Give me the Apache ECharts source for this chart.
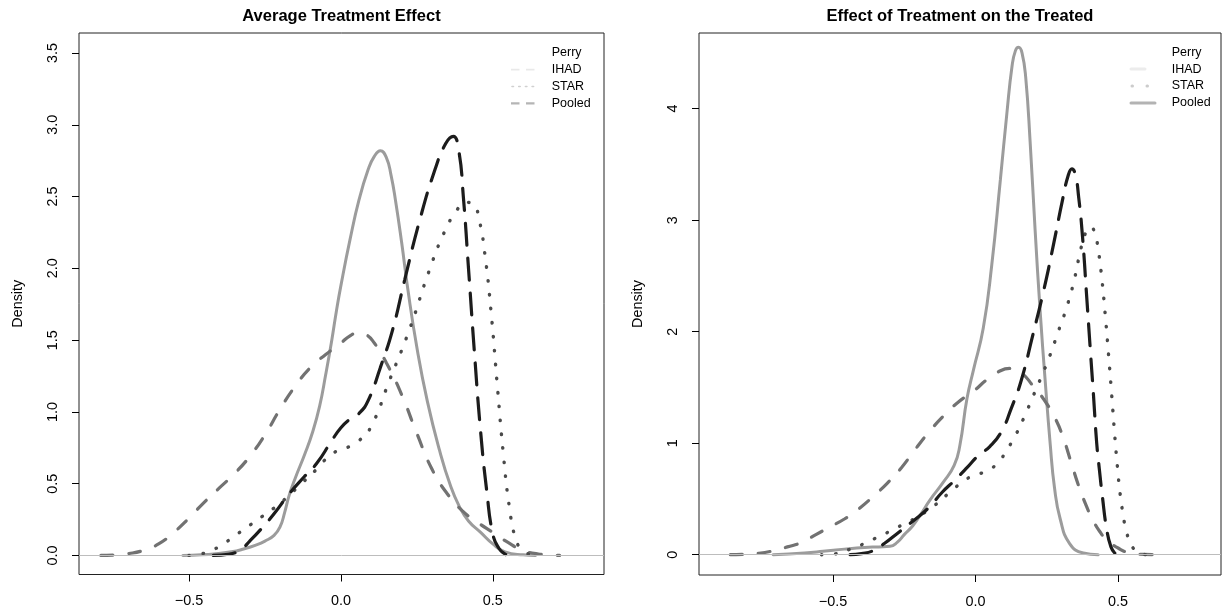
<!DOCTYPE html>
<html>
<head>
<meta charset="utf-8">
<script src="https://cdn.jsdelivr.net/npm/echarts@6.0.0/dist/echarts.min.js"></script>
<style>
  html, body { margin: 0; padding: 0; background: #fff; }
  #chart { width: 1222px; height: 612px; }
</style>
</head>
<body>
<div id="chart"></div>
<script>
// density curves, [effect, density]
const ateSolid = [
  [-0.52, 0], [-0.46, 0.004], [-0.41, 0.012], [-0.36, 0.025], [-0.32, 0.045], [-0.28, 0.072],
  [-0.25, 0.1], [-0.22, 0.14], [-0.2, 0.2], [-0.185, 0.3], [-0.17, 0.42], [-0.15, 0.54],
  [-0.12, 0.7], [-0.093, 0.86], [-0.07, 1.04], [-0.05, 1.26], [-0.03, 1.5], [-0.015, 1.7],
  [0, 1.88], [0.03, 2.2], [0.06, 2.48], [0.09, 2.69], [0.11, 2.78], [0.13, 2.82], [0.15, 2.77],
  [0.165, 2.65], [0.18, 2.47], [0.2, 2.18], [0.22, 1.86], [0.25, 1.45], [0.285, 1.07],
  [0.325, 0.73], [0.36, 0.49], [0.39, 0.34], [0.42, 0.24], [0.46, 0.16], [0.5, 0.08],
  [0.54, 0.025], [0.6, 0.004], [0.64, 0]
]
const ateDashed = [
  [-0.79, 0], [-0.74, 0.003], [-0.7, 0.012], [-0.65, 0.035], [-0.6, 0.08], [-0.55, 0.16],
  [-0.5, 0.26], [-0.45, 0.37], [-0.4, 0.47], [-0.35, 0.57], [-0.3, 0.69], [-0.25, 0.84],
  [-0.2, 1.02], [-0.15, 1.18], [-0.1, 1.31], [-0.05, 1.4], [0, 1.48], [0.03, 1.53], [0.055, 1.55],
  [0.08, 1.54], [0.11, 1.48], [0.15, 1.34], [0.2, 1.12], [0.25, 0.85], [0.3, 0.6],
  [0.35, 0.43], [0.4, 0.31], [0.45, 0.23], [0.5, 0.16], [0.55, 0.09], [0.6, 0.035],
  [0.65, 0.01], [0.72, 0]
]
const ateDotted = [
  [-0.5, 0], [-0.46, 0.01], [-0.42, 0.04], [-0.38, 0.09], [-0.34, 0.15], [-0.3, 0.21],
  [-0.26, 0.27], [-0.22, 0.33], [-0.18, 0.4], [-0.13, 0.5], [-0.08, 0.6], [-0.04, 0.69],
  [0, 0.74], [0.03, 0.76], [0.06, 0.8], [0.1, 0.9], [0.16, 1.22], [0.225, 1.57],
  [0.29, 1.98], [0.34, 2.25], [0.38, 2.4], [0.41, 2.46], [0.435, 2.45], [0.455, 2.34],
  [0.475, 2.08], [0.495, 1.68], [0.515, 1.18], [0.535, 0.7], [0.555, 0.33], [0.575, 0.12],
  [0.6, 0.03], [0.64, 0]
]
const ateLongDash = [
  [-0.42, 0], [-0.37, 0.008], [-0.33, 0.04], [-0.3, 0.1], [-0.26, 0.19], [-0.22, 0.29],
  [-0.17, 0.43], [-0.12, 0.55], [-0.08, 0.64], [-0.03, 0.8], [0, 0.89], [0.03, 0.95],
  [0.06, 0.99], [0.09, 1.08], [0.13, 1.31], [0.17, 1.57], [0.21, 1.92], [0.26, 2.34],
  [0.31, 2.69], [0.345, 2.87], [0.37, 2.92], [0.388, 2.82], [0.403, 2.5], [0.42, 2.0],
  [0.44, 1.4], [0.46, 0.86], [0.48, 0.45], [0.5, 0.15], [0.52, 0.05], [0.54, 0.01], [0.55, 0]
]

const totSolid = [
  [-0.71, 0], [-0.6, 0.015], [-0.535, 0.03], [-0.46, 0.05], [-0.39, 0.065], [-0.34, 0.07],
  [-0.3, 0.075], [-0.275, 0.11], [-0.25, 0.18], [-0.22, 0.26], [-0.19, 0.37], [-0.16, 0.49],
  [-0.113, 0.65], [-0.075, 0.8], [-0.055, 0.98], [-0.03, 1.4], [-0.007, 1.66], [0.027, 2.03],
  [0.057, 2.6], [0.087, 3.36], [0.11, 3.96], [0.128, 4.38], [0.14, 4.52], [0.151, 4.55],
  [0.163, 4.5], [0.176, 4.28], [0.192, 3.68], [0.209, 2.91], [0.227, 2.17], [0.244, 1.57],
  [0.262, 0.99], [0.277, 0.6], [0.297, 0.32], [0.33, 0.1], [0.378, 0.015], [0.43, 0]
]
const totDashed = [
  [-0.86, 0], [-0.81, 0.003], [-0.76, 0.012], [-0.71, 0.035], [-0.66, 0.07], [-0.61, 0.11],
  [-0.56, 0.18], [-0.51, 0.25], [-0.46, 0.32], [-0.41, 0.41], [-0.36, 0.52], [-0.31, 0.64],
  [-0.26, 0.78], [-0.21, 0.95], [-0.16, 1.11], [-0.11, 1.25], [-0.06, 1.37], [-0.01, 1.46],
  [0.04, 1.57], [0.08, 1.64], [0.12, 1.67], [0.16, 1.63], [0.2, 1.52], [0.24, 1.39],
  [0.28, 1.22], [0.31, 1.03], [0.335, 0.83], [0.36, 0.63], [0.385, 0.46], [0.41, 0.32],
  [0.435, 0.21], [0.465, 0.12], [0.5, 0.06], [0.535, 0.02], [0.59, 0.003], [0.67, 0]
]
const totDotted = [
  [-0.54, 0], [-0.49, 0.008], [-0.44, 0.05], [-0.39, 0.1], [-0.35, 0.15], [-0.3, 0.21],
  [-0.255, 0.27], [-0.21, 0.33], [-0.15, 0.43], [-0.09, 0.56], [-0.047, 0.65], [-0.008, 0.71],
  [0.04, 0.75], [0.08, 0.83], [0.11, 0.94], [0.14, 1.07], [0.17, 1.23], [0.2, 1.41],
  [0.23, 1.59], [0.26, 1.78], [0.29, 2.0], [0.32, 2.22], [0.345, 2.45], [0.365, 2.69],
  [0.385, 2.88], [0.403, 2.94], [0.418, 2.89], [0.43, 2.74], [0.442, 2.5], [0.455, 2.15],
  [0.467, 1.78], [0.478, 1.42], [0.488, 1.08], [0.498, 0.78], [0.507, 0.55], [0.517, 0.37],
  [0.53, 0.2], [0.55, 0.07], [0.575, 0.015], [0.6, 0]
]
const totLongDash = [
  [-0.44, 0], [-0.4, 0.01], [-0.36, 0.035], [-0.32, 0.1], [-0.27, 0.2], [-0.22, 0.3],
  [-0.165, 0.42], [-0.117, 0.56], [-0.072, 0.67], [-0.03, 0.78], [0.01, 0.89], [0.05, 0.97],
  [0.09, 1.1], [0.125, 1.31], [0.16, 1.56], [0.2, 1.96], [0.24, 2.38], [0.275, 2.8],
  [0.305, 3.18], [0.325, 3.4], [0.338, 3.46], [0.35, 3.41], [0.362, 3.2], [0.375, 2.86],
  [0.39, 2.31], [0.402, 1.86], [0.414, 1.42], [0.425, 1.0], [0.435, 0.75], [0.445, 0.52],
  [0.46, 0.23], [0.475, 0.07], [0.49, 0.01], [0.5, 0]
]

const legendNames = ['Perry', 'IHAD', 'STAR', 'Pooled']
const titles = ['Average Treatment Effect', 'Effect of Treatment on the Treated']
const xTicks = [-0.5, 0, 0.5]
const xTickLabels = ['\u22120.5', '0.0', '0.5']
const ateYTicks = [0, 0.5, 1, 1.5, 2, 2.5, 3, 3.5]
const ateYTickLabels = ['0.0', '0.5', '1.0', '1.5', '2.0', '2.5', '3.0', '3.5']
const totYTicks = [0, 1, 2, 3, 4]
const totYTickLabels = ['0', '1', '2', '3', '4']

const FONT = '"Liberation Sans", Arial, Helvetica, sans-serif'

const chart = echarts.init(document.getElementById('chart'))

function labelFor(ticks, labels) {
  return (v) => {
    const i = ticks.findIndex((t) => Math.abs(t - v) < 1e-9)
    return i < 0 ? '' : labels[i]
  }
}

function xAxisFor(idx, min, max) {
  return {
    type: 'value',
    gridIndex: idx,
    min,
    max,
    axisLine: { show: false, onZero: false },
    splitLine: { show: false },
    axisTick: { show: true, length: 7, customValues: xTicks, lineStyle: { color: '#000' } },
    axisLabel: {
      customValues: xTicks,
      margin: 20,
      fontSize: 14.4,
      color: '#000',
      fontFamily: FONT,
      formatter: labelFor(xTicks, xTickLabels)
    }
  }
}

function yAxisFor(idx, min, max, ticks, labels) {
  return {
    type: 'value',
    gridIndex: idx,
    min,
    max,
    name: 'Density',
    nameLocation: 'middle',
    nameGap: 54,
    nameTextStyle: { fontSize: 14.4, color: '#000', fontFamily: FONT },
    axisLine: { show: false, onZero: false },
    splitLine: { show: false },
    axisTick: { show: true, length: 7, customValues: ticks, lineStyle: { color: '#000' } },
    axisLabel: {
      customValues: ticks,
      rotate: 90,
      margin: 19,
      fontSize: 14.4,
      color: '#000',
      fontFamily: FONT,
      formatter: labelFor(ticks, labels)
    }
  }
}

const styles = {
  solid: { color: '#9c9c9c', width: 3, type: 'solid', cap: 'round' },
  dashed: { color: '#727272', width: 3.2, type: [12, 16], cap: 'round' },
  dotted: { color: '#4a4a4a', width: 3.4, type: [0.5, 13.5], cap: 'round' },
  longDash: { color: '#1c1c1c', width: 3.2, type: [22, 13], cap: 'round' }
}

function curve(name, data, idx, style, withZero) {
  const s = {
    name,
    type: 'line',
    xAxisIndex: idx,
    yAxisIndex: idx,
    data,
    symbol: 'none',
    smooth: 0.5,
    lineStyle: style
  }
  if (withZero) {
    // abline(h = 0)
    s.markLine = {
      silent: true,
      symbol: 'none',
      label: { show: false },
      lineStyle: { color: '#bdbdbd', width: 1, type: 'solid' },
      data: [{ yAxis: 0 }]
    }
  }
  return s
}

// legend drawn by hand, its samples do not match the plotted lines
function legendGraphic(textX, topY, samples) {
  const els = []
  legendNames.forEach((name, i) => {
    const y = topY + i * 16.9
    const s = samples[i]
    if (s) {
      els.push({
        type: 'line',
        shape: { x1: s.x1, y1: y, x2: s.x2, y2: y },
        style: { stroke: s.color, lineWidth: s.width, lineDash: s.dash || null, lineCap: s.cap || 'butt' },
        silent: true
      })
    }
    els.push({
      type: 'text',
      x: textX,
      y,
      style: { text: name, fill: '#000', font: '12.5px ' + FONT, align: 'left', verticalAlign: 'middle' },
      silent: true
    })
  })
  return els
}

const graphics = [
  {
    type: 'text', x: 341.5, y: 16.5,
    style: { text: titles[0], fill: '#000', font: 'bold 16.5px ' + FONT, align: 'center', verticalAlign: 'middle' }
  },
  {
    type: 'text', x: 960, y: 16.5,
    style: { text: titles[1], fill: '#000', font: 'bold 16.5px ' + FONT, align: 'center', verticalAlign: 'middle' }
  },
  ...legendGraphic(551.7, 52.7, [
    null,
    { x1: 511, x2: 535, color: '#e9e9e9', width: 1.6, dash: [8.5, 6.5] },
    { x1: 512, x2: 535, color: '#d0d0d0', width: 1.6, dash: [1.5, 5.2], cap: 'round' },
    { x1: 511, x2: 535, color: '#b5b5b5', width: 2.2, dash: [8.5, 6.5] }
  ]),
  ...legendGraphic(1171.7, 52.2, [
    null,
    { x1: 1131, x2: 1145, color: '#ececec', width: 3, cap: 'round' },
    { x1: 1132, x2: 1150, color: '#cccccc', width: 3, dash: [0.5, 14.5], cap: 'round' },
    { x1: 1131, x2: 1155, color: '#b3b3b3', width: 3, cap: 'round' }
  ])
]

const option = {
  animation: false,
  backgroundColor: '#fff',
  textStyle: { fontFamily: FONT },
  grid: [
    { left: 79, top: 33, width: 525, height: 541.5, show: true, borderColor: '#222', borderWidth: 1, outerBoundsMode: 'none' },
    { left: 699, top: 33, width: 522, height: 542, show: true, borderColor: '#222', borderWidth: 1, outerBoundsMode: 'none' }
  ],
  xAxis: [xAxisFor(0, -0.862, 0.866), xAxisFor(1, -0.97, 0.861)],
  yAxis: [
    yAxisFor(0, -0.133, 3.64, ateYTicks, ateYTickLabels),
    yAxisFor(1, -0.182, 4.678, totYTicks, totYTickLabels)
  ],
  series: [
    curve('Perry', ateSolid, 0, styles.solid, true),
    curve('Pooled', ateDashed, 0, styles.dashed),
    curve('STAR', ateDotted, 0, styles.dotted),
    curve('IHAD', ateLongDash, 0, styles.longDash),
    curve('Perry', totSolid, 1, styles.solid, true),
    curve('Pooled', totDashed, 1, styles.dashed),
    curve('STAR', totDotted, 1, styles.dotted),
    curve('IHAD', totLongDash, 1, styles.longDash)
  ],
  graphic: graphics
}

chart.setOption(option)
</script>
</body>
</html>
